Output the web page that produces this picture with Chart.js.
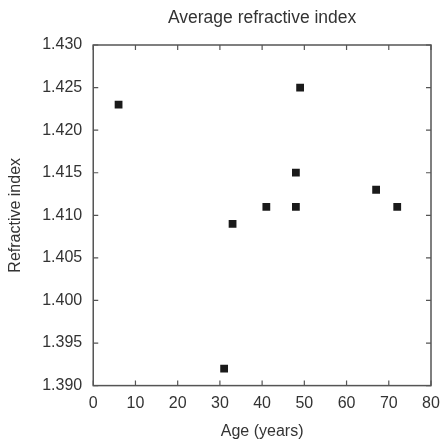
<!DOCTYPE html>
<html>
<head>
<meta charset="utf-8">
<script src="https://cdn.jsdelivr.net/npm/chart.js@4.4.1/dist/chart.umd.min.js"></script>
<style>
  html, body { margin: 0; padding: 0; background: #fff; }
  #wrap { width: 444px; height: 441px; position: relative; }
</style>
</head>
<body>
<div id="wrap"><canvas id="chart"></canvas></div>
<script>
// data
const ages = [6, 31, 33, 41, 48, 48, 49, 67, 72];
const indices = [1.423, 1.392, 1.409, 1.411, 1.415, 1.411, 1.425, 1.413, 1.411];
const xTicks = [0, 10, 20, 30, 40, 50, 60, 70, 80];
const yTicks = [1.390, 1.395, 1.400, 1.405, 1.410, 1.415, 1.420, 1.425, 1.430];
const chartTitle = 'Average refractive index';

const points = ages.map((a, i) => ({ x: a, y: indices[i] }));
const axisColor = '#555';
const textColor = '#333';

// box round the plot, short ticks pointing inward on all four sides,
// and the title centred over the plot rather than the canvas
const frame = {
    id: 'frame',
    afterDatasetsDraw(chart) {
        const { ctx, chartArea: a, scales } = chart;
        ctx.save();
        ctx.strokeStyle = axisColor;
        ctx.lineWidth = 1.5;
        ctx.strokeRect(a.left, a.top, a.right - a.left, a.bottom - a.top);
        ctx.lineWidth = 1.2;
        ctx.beginPath();
        xTicks.forEach(v => {
            const px = scales.x.getPixelForValue(v);
            ctx.moveTo(px, a.bottom); ctx.lineTo(px, a.bottom - 5);
            ctx.moveTo(px, a.top); ctx.lineTo(px, a.top + 5);
        });
        yTicks.forEach(v => {
            const py = scales.y.getPixelForValue(v);
            ctx.moveTo(a.left, py); ctx.lineTo(a.left + 5, py);
            ctx.moveTo(a.right, py); ctx.lineTo(a.right - 5, py);
        });
        ctx.stroke();

        ctx.fillStyle = textColor;
        ctx.font = '17.5px "Liberation Sans"';
        ctx.textAlign = 'center';
        ctx.textBaseline = 'middle';
        ctx.fillText(chartTitle, (a.left + a.right) / 2, 18);
        ctx.restore();
    }
};

new Chart(document.getElementById('chart'), {
    type: 'scatter',
    data: {
        datasets: [{
            data: points,
            pointStyle: 'rect',
            pointRadius: 5.5,
            pointBorderWidth: 0,
            backgroundColor: '#1a1a1a',
            borderColor: '#1a1a1a'
        }]
    },
    options: {
        responsive: true,
        maintainAspectRatio: false,
        animation: false,
        layout: { padding: { top: 45, right: 0, left: 6, bottom: 0 } },
        plugins: {
            legend: { display: false },
            tooltip: { enabled: false },
            title: { display: false }
        },
        scales: {
            x: {
                type: 'linear',
                min: 0,
                max: 80,
                afterBuildTicks: s => { s.ticks = xTicks.map(v => ({ value: v })); },
                afterFit: s => { s.paddingRight = 13; },
                grid: { display: false, drawTicks: false },
                border: { display: false },
                ticks: {
                    color: textColor,
                    padding: 8,
                    maxRotation: 0,
                    font: { size: 16, family: 'Liberation Sans' }
                },
                title: {
                    display: true,
                    text: 'Age (years)',
                    color: textColor,
                    font: { size: 16, family: 'Liberation Sans' },
                    padding: { top: 1, bottom: 0 }
                }
            },
            y: {
                type: 'linear',
                min: 1.390,
                max: 1.430,
                afterBuildTicks: s => { s.ticks = yTicks.map(v => ({ value: v })); },
                grid: { display: false, drawTicks: false },
                border: { display: false },
                ticks: {
                    color: textColor,
                    padding: 11,
                    font: { size: 16, family: 'Liberation Sans' },
                    callback: v => v.toFixed(3)
                },
                title: {
                    display: true,
                    text: 'Refractive index',
                    color: textColor,
                    font: { size: 16, family: 'Liberation Sans' },
                    padding: { top: 0, bottom: 6 }
                }
            }
        }
    },
    plugins: [frame]
});
</script>
</body>
</html>
